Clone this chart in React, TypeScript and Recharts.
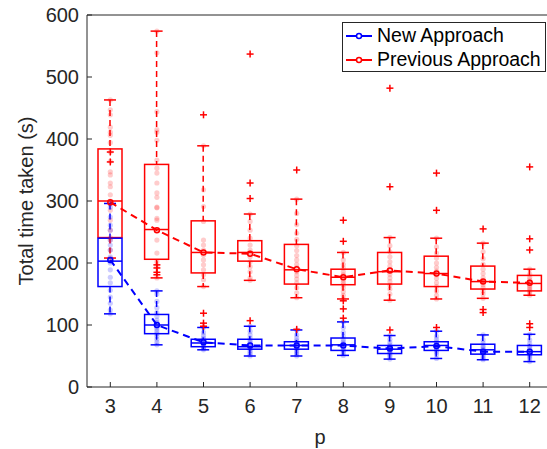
import React from 'react';
import { ComposedChart, XAxis, YAxis, Bar, Scatter, Line } from 'recharts';

const pValues = [3, 4, 5, 6, 7, 8, 9, 10, 11, 12];
const yTicks = [0, 100, 200, 300, 400, 500, 600];

// Previous approach (red) box statistics
const prevLow = [208, 176, 162, 172, 144, 142, 140, 142, 143, 148];
const prevQ1 = [241, 206, 184, 203, 166, 165, 166, 162, 158, 155];
const prevMedian = [300, 254, 217, 217, 189, 177, 186, 183, 170, 167];
const prevQ3 = [384, 359, 268, 236, 230, 190, 217, 211, 195, 180];
const prevHigh = [463, 574, 389, 279, 303, 217, 241, 240, 232, 190];
const prevMean = [298, 253, 217, 215, 190, 177, 188, 183, 170, 168];

// New approach (blue) box statistics
const newLow = [118, 68, 60, 50, 50, 51, 45, 46, 44, 41];
const newQ1 = [162, 86, 65, 61, 61, 59, 54, 59, 53, 52];
const newMedian = [203, 100, 71, 65, 67, 68, 61, 67, 60, 57];
const newQ3 = [240, 117, 77, 77, 73, 79, 67, 73, 69, 67];
const newHigh = [296, 155, 96, 98, 92, 105, 83, 90, 84, 85];
const newMean = [205, 100, 72, 67, 67, 67, 62, 66, 57, 57];

// raw runs, one list per p
const prevSamples = [
  [463, 447, 439, 419, 411, 406, 394, 379, 364, 347, 342, 329, 323, 310, 300, 295, 285, 269, 253, 241, 237, 221, 208],
  [574, 539, 444, 415, 411, 398, 366, 353, 345, 329, 313, 306, 290, 289, 272, 269, 253, 237, 216, 202, 194, 176],
  [389, 318, 291, 267, 237, 229, 221, 217, 213, 205, 197, 189, 181, 173, 162],
  [279, 267, 253, 240, 229, 221, 216, 210, 202, 194, 186, 176, 172],
  [303, 280, 262, 248, 238, 228, 220, 212, 205, 198, 192, 186, 180, 174, 168, 160, 152, 144],
  [217, 205, 198, 192, 186, 181, 177, 173, 169, 165, 160, 154, 148, 142],
  [241, 228, 218, 210, 202, 195, 188, 182, 176, 170, 164, 158, 150, 140],
  [240, 226, 216, 208, 200, 193, 187, 181, 175, 168, 162, 155, 148, 142],
  [232, 218, 207, 198, 190, 183, 176, 170, 165, 160, 155, 150, 143],
  [190, 182, 177, 173, 170, 167, 164, 161, 158, 155, 152, 148],
];
const newSamples = [
  [296, 290, 274, 261, 253, 237, 229, 221, 210, 203, 200, 189, 177, 168, 156, 145, 135, 124, 118],
  [155, 150, 138, 128, 120, 114, 108, 104, 100, 97, 94, 90, 86, 82, 77, 72, 68],
  [96, 88, 83, 79, 76, 74, 72, 71, 70, 68, 66, 64, 62, 60],
  [98, 90, 84, 79, 75, 72, 69, 66, 64, 62, 59, 56, 53, 50],
  [92, 84, 79, 75, 72, 70, 68, 66, 64, 62, 59, 56, 53, 50],
  [105, 96, 88, 82, 77, 73, 70, 67, 64, 61, 58, 55, 51],
  [83, 77, 72, 68, 65, 63, 61, 59, 57, 55, 52, 49, 45],
  [90, 82, 77, 73, 70, 68, 66, 64, 62, 59, 56, 52, 46],
  [84, 76, 71, 67, 64, 61, 59, 57, 55, 52, 49, 46, 44],
  [85, 76, 70, 66, 63, 60, 58, 56, 54, 52, 49, 46, 41],
];
const prevOutliers = [
  [379, 363],
  [197, 192, 185, 181],
  [439, 119, 103, 98],
  [537, 329, 304, 107],
  [350, 93],
  [269, 235, 139, 126, 111],
  [482, 323, 92],
  [345, 285, 96],
  [255, 125, 120],
  [355, 239, 221, 102, 96],
];

const RED = '#ff0000';
const BLUE = '#0000ff';
const AXIS = '#262626';
const FONT = '"Liberation Sans", Arial, Helvetica, sans-serif';

const rows = pValues.map((p, i) => ({
  p,
  prevRange: [prevLow[i], prevHigh[i]],
  prevStats: { lo: prevLow[i], q1: prevQ1[i], med: prevMedian[i], q3: prevQ3[i], hi: prevHigh[i] },
  newRange: [newLow[i], newHigh[i]],
  newStats: { lo: newLow[i], q1: newQ1[i], med: newMedian[i], q3: newQ3[i], hi: newHigh[i] },
  prevMean: prevMean[i],
  newMean: newMean[i],
}));

const flatten = (lists: number[][]) =>
  lists.flatMap((vals, i) => vals.map((v) => ({ p: pValues[i], v })));

const prevPoints = flatten(prevSamples);
const newPoints = flatten(newSamples);
const prevPlus = flatten(prevOutliers);

// the bar spans lo..hi; the rest of the box is placed along it
const boxShape = (color: string, key: string) => (props: any) => {
  const { x, y, width, height, payload } = props;
  const s = payload[key];
  const top = Math.min(y, y + height);
  const h = Math.abs(height);
  const py = (v: number) => top + (h * (s.hi - v)) / (s.hi - s.lo);
  const cx = x + width / 2;
  const cap = 6;
  return (
    <g stroke={color} strokeWidth={1.5} fill="none">
      <line x1={cx} x2={cx} y1={py(s.hi)} y2={py(s.q3)} strokeDasharray="6 4" />
      <line x1={cx} x2={cx} y1={py(s.q1)} y2={py(s.lo)} strokeDasharray="6 4" />
      <line x1={cx - cap} x2={cx + cap} y1={py(s.hi)} y2={py(s.hi)} />
      <line x1={cx - cap} x2={cx + cap} y1={py(s.lo)} y2={py(s.lo)} />
      <rect x={x} y={py(s.q3)} width={width} height={py(s.q1) - py(s.q3)} />
      <line x1={x} x2={x + width} y1={py(s.med)} y2={py(s.med)} />
    </g>
  );
};

const dotShape = (color: string) => (props: any) => (
  <circle cx={props.cx} cy={props.cy} r={2.6} fill={color} fillOpacity={0.2} stroke="none" />
);

const plusShape = (props: any) => (
  <g stroke={RED} strokeWidth={1.5}>
    <line x1={props.cx - 3.5} x2={props.cx + 3.5} y1={props.cy} y2={props.cy} />
    <line x1={props.cx} x2={props.cx} y1={props.cy - 3.5} y2={props.cy + 3.5} />
  </g>
);

const meanDot = (color: string) => (props: any) => (
  <circle key={props.index} cx={props.cx} cy={props.cy} r={2.5} fill="none" stroke={color} strokeWidth={1.5} />
);

const LegendBox = () => (
  <div
    style={{
      position: 'absolute',
      left: 342,
      top: 22,
      border: `1px solid ${AXIS}`,
      background: '#fff',
      width: 202,
      padding: '0',
      fontFamily: FONT,
      fontSize: 19.5,
      lineHeight: '21px',
      color: '#000',
    }}
  >
    {[
      { name: 'New Approach', color: BLUE },
      { name: 'Previous Approach', color: RED },
    ].map((it) => (
      <div key={it.name} style={{ display: 'flex', alignItems: 'center', whiteSpace: 'nowrap', height: 24 }}>
        <svg width={32} height={21}>
          <line x1={3} x2={29} y1={11} y2={11} stroke={it.color} strokeWidth={2} />
          <circle cx={16} cy={11} r={2.5} fill="#fff" stroke={it.color} strokeWidth={1.5} />
        </svg>
        <span style={{ marginLeft: 2 }}>{it.name}</span>
      </div>
    ))}
  </div>
);

const tickStyle = { fill: AXIS, fontSize: 20, fontFamily: FONT };

export default function App() {
  return (
    <div style={{ position: 'fixed', left: 0, top: 0, width: 547, height: 449, overflow: 'hidden', background: '#fff' }}>
      <ComposedChart width={570} height={449} data={rows} margin={{ top: 0, right: 0, bottom: 0, left: 0 }}>
        <XAxis
          dataKey="p"
          type="number"
          domain={[2.5, 12.5]}
          ticks={pValues}
          allowDataOverflow
          height={62}
          tickSize={-5}
          tickMargin={17}
          tick={tickStyle}
          stroke={AXIS}
          label={{ value: 'p', position: 'insideBottom', offset: 5, fill: AXIS, fontSize: 20, fontFamily: FONT }}
        />
        <XAxis xAxisId="b" dataKey="p" type="number" domain={[2.5, 12.5]} allowDataOverflow hide />
        <XAxis
          xAxisId="top"
          orientation="top"
          dataKey="p"
          type="number"
          domain={[2.5, 12.5]}
          ticks={pValues}
          allowDataOverflow
          height={15}
          tickSize={-5}
          tick={false}
          stroke={AXIS}
        />
        <YAxis
          type="number"
          domain={[0, 600]}
          ticks={yTicks}
          width={87}
          tickSize={-5}
          tickMargin={13}
          tick={tickStyle}
          stroke={AXIS}
          label={{
            value: 'Total time taken (s)',
            angle: -90,
            position: 'insideLeft',
            offset: 26,
            style: { textAnchor: 'middle' },
            fill: AXIS,
            fontSize: 20,
            fontFamily: FONT,
          }}
        />
        <YAxis
          yAxisId="right"
          orientation="right"
          type="number"
          domain={[0, 600]}
          ticks={yTicks}
          width={17}
          tickSize={-5}
          tick={false}
          stroke={AXIS}
        />
        <Bar dataKey="prevRange" barSize={24} shape={boxShape(RED, 'prevStats')} isAnimationActive={false} />
        <Bar xAxisId="b" dataKey="newRange" barSize={24} shape={boxShape(BLUE, 'newStats')} isAnimationActive={false} />
        <Scatter data={prevPoints} dataKey="v" shape={dotShape(RED)} isAnimationActive={false} />
        <Scatter data={newPoints} dataKey="v" shape={dotShape(BLUE)} isAnimationActive={false} />
        <Scatter data={prevPlus} dataKey="v" shape={plusShape} isAnimationActive={false} />
        <Line
          dataKey="prevMean"
          stroke={RED}
          strokeWidth={2}
          strokeDasharray="7 5"
          dot={meanDot(RED)}
          isAnimationActive={false}
        />
        <Line
          dataKey="newMean"
          stroke={BLUE}
          strokeWidth={2}
          strokeDasharray="7 5"
          dot={meanDot(BLUE)}
          isAnimationActive={false}
        />
      </ComposedChart>
      <LegendBox />
    </div>
  );
}
